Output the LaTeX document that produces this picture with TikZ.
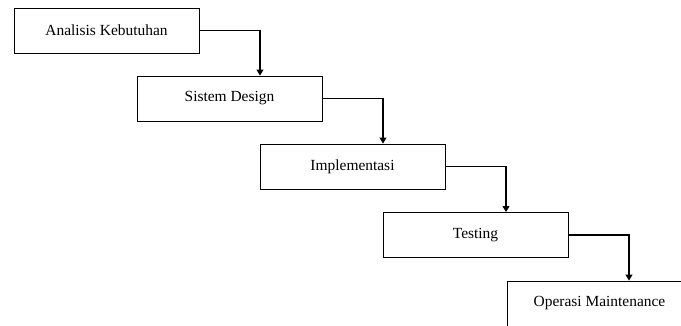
\documentclass[tikz,border=0pt]{standalone}
\usepackage{fontspec}
\setmainfont{Liberation Serif}
\usetikzlibrary{arrows.meta}

\begin{document}
\begin{tikzpicture}[x=1bp,y=-1bp,
        tahap/.style={draw=black, line width=0.9bp, fill=white, minimum width=185bp, minimum height=45bp, inner sep=0pt, font=\fontsize{15.5}{18}\selectfont},
        alur/.style={draw=black, line width=1.1bp, -{Triangle[width=7bp,length=6bp]}}]
        \useasboundingbox (0,0) rectangle (681,325);
        \clip (0,0) rectangle (681,325);
        \node [tahap] (analisis) at (106.5,30.5) {Analisis Kebutuhan};
        \node [tahap] (desain) at (229.5,98.5) {Sistem Design};
        \node [tahap] (implementasi) at (352.5,166.5) {Implementasi};
        \node [tahap] (testing) at (475.5,235) {Testing};
        \node [tahap] (operasi) at (599.5,303.5) {Operasi Maintenance};
        \draw [alur] (analisis.east) -| ([xshift=30.5bp]desain.north);
        \draw [alur] (desain.east) -| ([xshift=30.5bp]implementasi.north);
        \draw [alur] (implementasi.east) -| ([xshift=30.5bp]testing.north);
        \draw [alur] (testing.east) -| ([xshift=29.5bp]operasi.north);
\end{tikzpicture}
\end{document}
